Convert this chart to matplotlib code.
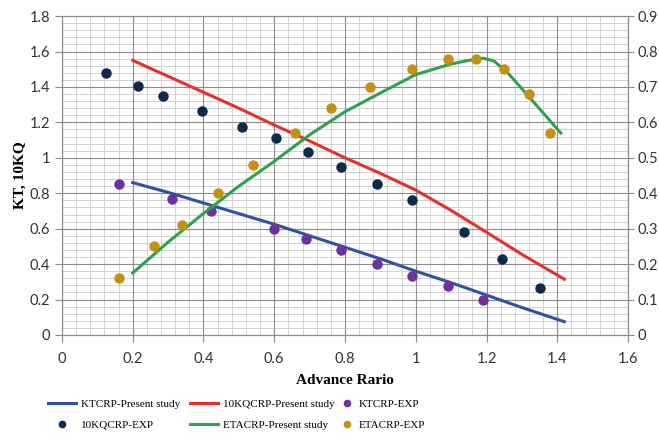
import numpy as np
import matplotlib
matplotlib.use("Agg")
import matplotlib.pyplot as plt
from matplotlib.ticker import MultipleLocator, FuncFormatter
from matplotlib.lines import Line2D

# present study curves (advance ratio J)
j_line = [0.2, 0.3, 0.4, 0.5, 0.6, 0.7, 0.8, 0.9, 1.0, 1.1, 1.2, 1.3, 1.42]
kt_study = [0.86, 0.805, 0.745, 0.685, 0.625, 0.56, 0.495, 0.43, 0.36, 0.295, 0.225, 0.155, 0.075]
kq10_study = [1.55, 1.46, 1.37, 1.28, 1.185, 1.095, 1.0, 0.912, 0.818, 0.703, 0.58, 0.455, 0.315]

j_eta = [0.2, 0.3, 0.4, 0.5, 0.6, 0.7, 0.8, 0.9, 1.0, 1.1, 1.15, 1.19, 1.22, 1.26, 1.3, 1.41]
eta_study = [0.175, 0.262, 0.343, 0.42, 0.49, 0.565, 0.63, 0.683, 0.735, 0.765, 0.775, 0.781, 0.774, 0.74, 0.695, 0.57]

# experimental points
j_kt_exp = [0.16, 0.31, 0.42, 0.60, 0.69, 0.79, 0.89, 0.99, 1.09, 1.19]
kt_exp = [0.85, 0.77, 0.70, 0.60, 0.54, 0.48, 0.40, 0.335, 0.275, 0.20]

j_kq_exp = [0.125, 0.215, 0.285, 0.395, 0.51, 0.605, 0.695, 0.79, 0.89, 0.99, 1.135, 1.245, 1.35]
kq10_exp = [1.48, 1.405, 1.35, 1.265, 1.175, 1.11, 1.035, 0.95, 0.855, 0.76, 0.58, 0.43, 0.265]

j_eta_exp = [0.16, 0.26, 0.34, 0.44, 0.54, 0.66, 0.76, 0.87, 0.99, 1.09, 1.17, 1.25, 1.32, 1.38]
eta_exp = [0.16, 0.25, 0.31, 0.40, 0.48, 0.57, 0.64, 0.70, 0.75, 0.78, 0.78, 0.75, 0.68, 0.57]

c_blue = '#2f52a2'
c_red = '#e8302a'
c_green = '#2ea24a'
c_purple = '#7030a0'
c_navy = '#0c2a4c'
c_gold = '#c39018'

tick_font = 'Lato'
serif = 'Liberation Serif'

fig = plt.figure(figsize=(6.59, 4.47), dpi=100)
ax = fig.add_axes([0.094, 0.2506, 0.859, 0.7134])
ax2 = ax.twinx()

ax.set_xlim(0, 1.6)
ax.set_ylim(0, 1.8)
ax2.set_ylim(0, 0.9)

ax.xaxis.set_major_locator(MultipleLocator(0.2))
ax.yaxis.set_major_locator(MultipleLocator(0.2))
ax2.yaxis.set_major_locator(MultipleLocator(0.1))

fmt = FuncFormatter(lambda v, p: f'{v:g}')
ax.xaxis.set_major_formatter(fmt)
ax.yaxis.set_major_formatter(fmt)
ax2.yaxis.set_major_formatter(fmt)

# minor grid sits under the major grid
ax.vlines(np.arange(0, 1.6001, 0.04), 0, 1.8, color='#d2d2d2', lw=0.7, zorder=0.2)
ax.hlines(np.arange(0, 1.8001, 0.04), 0, 1.6, color='#d2d2d2', lw=0.7, zorder=0.2)
ax.grid(which='major', color='#8c8c8c', linewidth=0.8)
ax.set_axisbelow(True)

for a in (ax, ax2):
    for s in a.spines.values():
        s.set_color('#8c8c8c')
        s.set_linewidth(0.8)
    a.tick_params(which='major', direction='out', length=5, color='#8c8c8c',
                  labelsize=10.5, labelcolor='#333333')
    for lab in a.get_xticklabels() + a.get_yticklabels():
        lab.set_fontfamily(tick_font)
ax.tick_params(axis='x', pad=7)
ax2.tick_params(axis='y', pad=3, length=4)

# lines
ax.plot(j_line, kt_study, color=c_blue, lw=2.2, zorder=3)
ax.plot(j_line, kq10_study, color=c_red, lw=2.2, zorder=3)
ax2.plot(j_eta, eta_study, color=c_green, lw=2.2, zorder=3)

# experimental markers
ax.plot(j_kt_exp, kt_exp, 'o', color=c_purple, ms=6.5, zorder=4)
ax.plot(j_kq_exp, kq10_exp, 'o', color=c_navy, ms=6.5, zorder=4)
ax2.plot(j_eta_exp, eta_exp, 'o', color=c_gold, ms=6.5, zorder=4)

ax.set_xlabel('Advance Rario', fontfamily=serif, fontweight='bold', fontsize=11, labelpad=6)
ax.set_ylabel('KT, 10KQ', fontfamily=serif, fontweight='bold', fontsize=11, labelpad=2)

# legend laid out as three single-column blocks
cols = [
    ([Line2D([], [], color=c_blue, lw=2.2),
      Line2D([], [], ls='none', marker='o', color=c_navy, ms=4.5)],
     ['KTCRP-Present study', '10KQCRP-EXP'], 48, 2.5),
    ([Line2D([], [], color=c_red, lw=2.2),
      Line2D([], [], color=c_green, lw=2.2)],
     ['10KQCRP-Present study', 'ETACRP-Present study'], 190, 2.5),
    ([Line2D([], [], ls='none', marker='o', color=c_purple, ms=4.5),
      Line2D([], [], ls='none', marker='o', color=c_gold, ms=4.5)],
     ['KTCRP-EXP', 'ETACRP-EXP'], 340, 1.2),
]
W, H = 659, 447
for hs, ls, x0, hl in cols:
    fig.legend(hs, ls, loc='upper left', bbox_to_anchor=(x0 / W, 1 - 399 / H),
               frameon=False, prop={'family': serif, 'size': 8},
               borderpad=0, borderaxespad=0, handlelength=hl,
               handletextpad=0.5, labelspacing=1.0)

fig.savefig('out.png', dpi=100)
